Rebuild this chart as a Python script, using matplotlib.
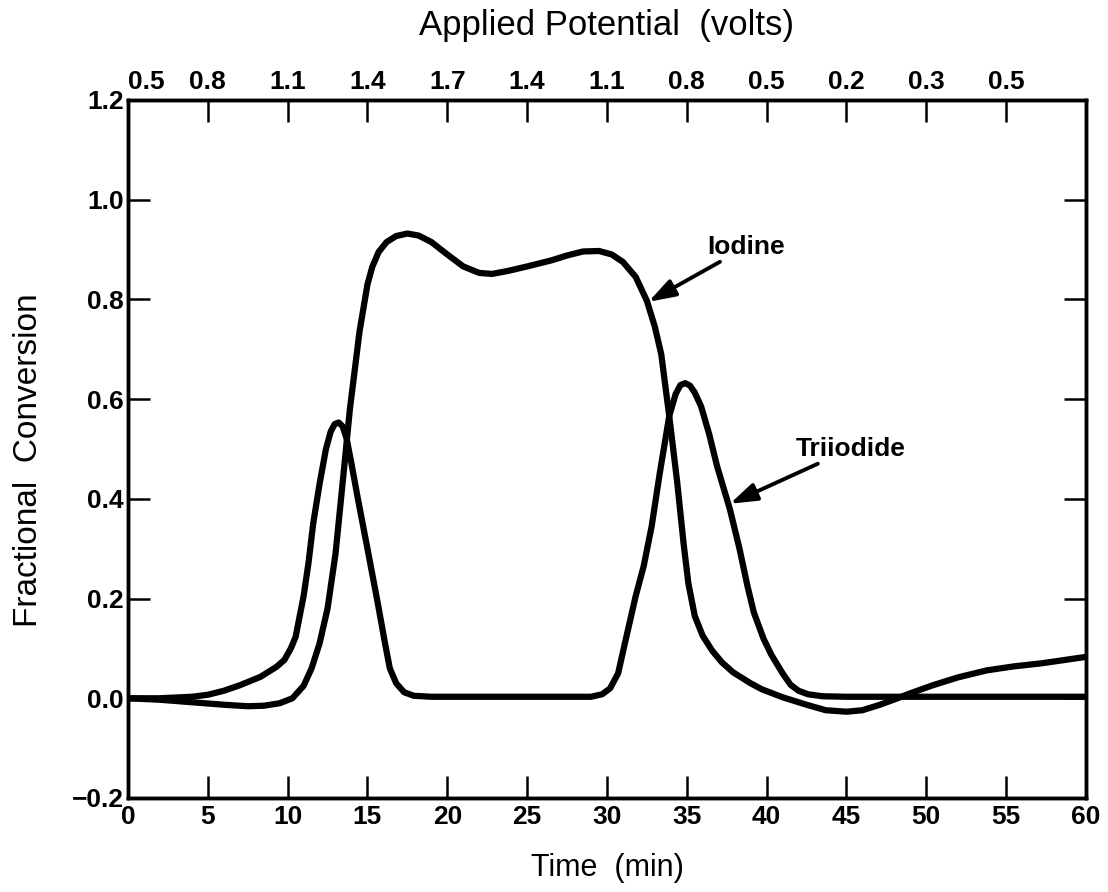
import matplotlib
matplotlib.use("Agg")
import matplotlib.pyplot as plt

# values
time_iodine = [0, 2, 4, 6, 7.5, 8.5, 9.5, 10.3, 11.0, 11.5, 12.0, 12.5, 13.0, 13.5,
               13.9, 14.5, 15.0, 15.3, 15.7, 16.2, 16.8, 17.5, 18.2, 19.0, 20.0,
               21.0, 22.0, 22.8, 23.8, 25.0, 26.5, 27.5, 28.5, 29.5, 30.3, 31.0,
               31.8, 32.5, 33.0, 33.4, 33.9, 34.4, 34.8, 35.1, 35.5, 36.0, 36.6,
               37.2, 37.9, 39.0, 39.7, 41.0, 42.5, 43.7, 45.0, 46.0, 47.1, 48.2,
               49.0, 50.4, 52.0, 53.8, 55.5, 57.2, 58.5, 60.0]
iodine = [0.0, -0.003, -0.008, -0.013, -0.016, -0.015, -0.010, 0.0, 0.025, 0.06,
          0.11, 0.18, 0.29, 0.45, 0.58, 0.735, 0.83, 0.865, 0.895, 0.915, 0.927,
          0.932, 0.928, 0.915, 0.89, 0.866, 0.853, 0.851, 0.857, 0.866, 0.878,
          0.888, 0.896, 0.897, 0.890, 0.875, 0.845, 0.797, 0.745, 0.69, 0.566,
          0.433, 0.31, 0.23, 0.165, 0.125, 0.095, 0.072, 0.052, 0.03, 0.018,
          0.002, -0.013, -0.024, -0.027, -0.024, -0.013, 0.0, 0.01, 0.026,
          0.042, 0.056, 0.064, 0.07, 0.076, 0.083]

time_triiodide = [0, 2, 4, 5, 6, 7, 8.3, 9.3, 9.8, 10.2, 10.5, 11.0, 11.3, 11.6,
                  12.0, 12.4, 12.7, 12.95, 13.2, 13.45, 13.7, 14.0, 14.4, 15.0,
                  15.65, 16.1, 16.4, 16.8, 17.3, 17.9, 19.0, 29.0, 29.7, 30.2,
                  30.7, 31.1, 31.8, 32.3, 32.8, 33.3, 33.9, 34.3, 34.6, 34.9, 35.2,
                  35.5, 35.9, 36.4, 36.9, 37.7, 38.3, 38.8, 39.2, 39.8, 40.3, 41.0,
                  41.5, 42.0, 42.6, 43.5, 45.0, 60.0]
triiodide = [0.0, 0.0, 0.003, 0.007, 0.015, 0.026, 0.043, 0.063, 0.077, 0.10,
             0.123, 0.205, 0.27, 0.35, 0.43, 0.50, 0.535, 0.55, 0.553, 0.545,
             0.52, 0.47, 0.40, 0.30, 0.19, 0.11, 0.06, 0.03, 0.012, 0.005, 0.003,
             0.003, 0.008, 0.02, 0.05, 0.107, 0.205, 0.265, 0.345, 0.45, 0.566,
             0.61, 0.628, 0.632, 0.627, 0.613, 0.585, 0.53, 0.465, 0.379, 0.30,
             0.225, 0.172, 0.12, 0.087, 0.05, 0.027, 0.015, 0.008, 0.004, 0.003,
             0.003]

time_ticks = [0, 5, 10, 15, 20, 25, 30, 35, 40, 45, 50, 55, 60]
conversion_ticks = [-0.2, 0.0, 0.2, 0.4, 0.6, 0.8, 1.0, 1.2]
potential_ticks = [0, 5, 10, 15, 20, 25, 30, 35, 40, 45, 50, 55]
potential_labels = ["0.5", "0.8", "1.1", "1.4", "1.7", "1.4", "1.1", "0.8",
                    "0.5", "0.2", "0.3", "0.5"]

iodine_label_xy = (36.3, 0.905)
iodine_arrow_tip = (32.6, 0.795)
triiodide_label_xy = (41.8, 0.50)
triiodide_arrow_tip = (37.7, 0.39)

plt.rcParams['font.family'] = ['Liberation Sans', 'DejaVu Sans']

fig = plt.figure(figsize=(11.08, 8.92), dpi=100)
ax = fig.add_axes([0.1155, 0.1054, 0.8646, 0.7826])

ax.plot(time_iodine, iodine, color='black', lw=4.5, solid_capstyle='round')
ax.plot(time_triiodide, triiodide, color='black', lw=4.5, solid_capstyle='round')

ax.set_xlim(0, 60)
ax.set_ylim(-0.2, 1.2)
ax.set_xticks(time_ticks)
ax.set_yticks(conversion_ticks)
ax.set_yticklabels([f"{v:.1f}".replace("-", "\u2212") for v in conversion_ticks])
ax.tick_params(axis='both', direction='in', length=16, width=1.8,
               labelsize=19, right=True)
ax.tick_params(axis='x', pad=5)
ax.tick_params(axis='y', pad=3)
for lab in ax.get_xticklabels() + ax.get_yticklabels():
    lab.set_fontweight('bold')
for sp in ax.spines.values():
    sp.set_linewidth(2.5)

ax.set_xlabel("Time  (min)", fontsize=22, va='center')
ax.xaxis.set_label_coords(0.5, -0.100)
ax.set_ylabel("Fractional  Conversion", fontsize=24, va='center')
ax.yaxis.set_label_coords(-0.104, 0.484)

top = ax.twiny()
top.set_xlim(ax.get_xlim())
top.set_xticks(potential_ticks)
top.set_xticklabels(potential_labels)
top.tick_params(axis='x', direction='in', length=16, width=1.8,
                labelsize=19, pad=4)
for lab in top.get_xticklabels():
    lab.set_fontweight('bold')
top.get_xticklabels()[0].set_ha('left')
for sp in top.spines.values():
    sp.set_linewidth(2.5)
top.set_xlabel("Applied Potential  (volts)", fontsize=25, va='center')
top.xaxis.set_label_coords(0.5, 1.106)

arrow = dict(arrowstyle='-|>,head_length=0.9,head_width=0.3', lw=2.8,
             mutation_scale=18, color='black', shrinkA=0, shrinkB=0)
ax.annotate("Iodine", xy=iodine_arrow_tip, xytext=iodine_label_xy,
            fontsize=19, fontweight='bold', ha='left', va='center',
            arrowprops=arrow)
ax.annotate("Triiodide", xy=triiodide_arrow_tip, xytext=triiodide_label_xy,
            fontsize=19, fontweight='bold', ha='left', va='center',
            arrowprops=arrow)

fig.savefig("out.png", dpi=100)
